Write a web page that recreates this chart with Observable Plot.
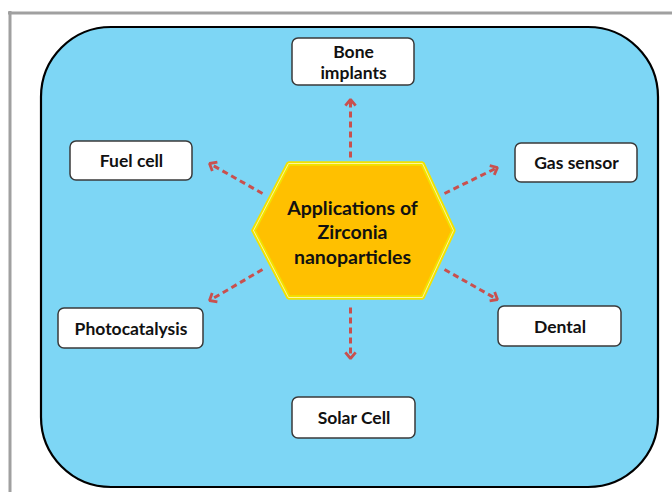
<!DOCTYPE html>
<html>
<head>
<meta charset="utf-8">
<script src="https://cdn.jsdelivr.net/npm/d3@7"></script>
<script src="https://cdn.jsdelivr.net/npm/@observablehq/plot@0.6"></script>
<style>
  html, body { margin: 0; padding: 0; background: #ffffff; }
  #chart svg { display: block; }
</style>
</head>
<body>
<div id="chart"></div>
<script>
// Application nodes (label, box extents in diagram units)
const labels = ["Bone\nimplants", "Fuel cell", "Gas sensor", "Photocatalysis", "Dental", "Solar Cell"];
const boxX1 = [292, 70, 515, 58, 498, 292];
const boxX2 = [414, 192, 637, 203, 621, 415];
const boxY1 = [38, 141, 143, 308, 306, 397];
const boxY2 = [85, 180, 182, 348, 346, 438];

// Arrows from the centre hexagon to each node
const arrowX1 = [350, 262, 444, 262, 444, 350];
const arrowY1 = [157, 193, 193, 269, 269, 307];
const arrowX2 = [350, 209, 497, 209, 497, 350];
const arrowY2 = [99, 163, 167, 300, 299, 358];

// Centre hexagon
const hexX = [253, 288, 422, 453, 422, 288, 253];
const hexY = [230, 163, 163, 230, 297, 297, 230];
const centreLabel = "Applications of\nZirconia\nnanoparticles";

const boxes = labels.map((l, i) => ({label: l, x1: boxX1[i], x2: boxX2[i], y1: boxY1[i], y2: boxY2[i]}));
const arrows = arrowX1.map((x, i) => ({x1: x, y1: arrowY1[i], x2: arrowX2[i], y2: arrowY2[i]}));
const hex = hexX.map((x, i) => ({x, y: hexY[i]}));
// chevron heads at each arrow tip
const wing = 8, ang = 40 * Math.PI / 180;
const heads = arrows.flatMap((a, i) => {
  const dx = a.x2 - a.x1, dy = a.y2 - a.y1, L = Math.hypot(dx, dy);
  const ux = -dx / L, uy = -dy / L;
  const rot = (t) => [ux * Math.cos(t) - uy * Math.sin(t), ux * Math.sin(t) + uy * Math.cos(t)];
  const [ax, ay] = rot(ang), [bx, by] = rot(-ang);
  return [
    {id: i, x: a.x2 + ax * wing, y: a.y2 + ay * wing},
    {id: i, x: a.x2, y: a.y2},
    {id: i, x: a.x2 + bx * wing, y: a.y2 + by * wing}
  ];
});

const font = "Lato, 'Open Sans', sans-serif";
const arrowColor = "#c9504e";

const chart = Plot.plot({
  width: 672,
  height: 492,
  margin: 0,
  x: {domain: [0, 672], range: [0, 672], axis: null},
  y: {domain: [0, 492], range: [0, 492], axis: null},
  style: {background: "#ffffff", fontFamily: font},
  marks: [
    // outer grey frame (top and left edges)
    Plot.ruleY([12.5], {x1: 8, x2: 672, stroke: "#a0a0a0", strokeWidth: 3}),
    Plot.ruleX([9.5], {y1: 11, y2: 492, stroke: "#a0a0a0", strokeWidth: 3}),
    // blue rounded panel
    Plot.rect([{x1: 41, x2: 658, y1: 27, y2: 487}], {
      x1: "x1", x2: "x2", y1: "y1", y2: "y2",
      rx: 70, fill: "#7dd6f5", stroke: "#000000", strokeWidth: 2.2
    }),
    // dashed arrow shafts
    Plot.link(arrows, {
      x1: "x1", y1: "y1", x2: "x2", y2: "y2",
      stroke: arrowColor, strokeWidth: 3, strokeDasharray: "6,4"
    }),
    // arrow heads
    Plot.line(heads, {
      x: "x", y: "y", z: "id",
      stroke: arrowColor, strokeWidth: 2.8, strokeLinejoin: "miter", strokeLinecap: "butt"
    }),
    // hexagon
    Plot.line(hex, {x: "x", y: "y", fill: "#ffc000", stroke: "#f2e200", strokeWidth: 4.5, strokeLinejoin: "miter"}),
    Plot.line(hex, {x: "x", y: "y", stroke: "#fff59a", strokeWidth: 1, strokeLinejoin: "miter"}),
    Plot.text([centreLabel], {
      x: 352, y: 231, text: d => d, fontSize: 19.5, fontWeight: "bold",
      fill: "#111111", lineHeight: 1.27, fontFamily: font
    }),
    // application boxes
    Plot.rect(boxes, {
      x1: "x1", x2: "x2", y1: "y1", y2: "y2",
      rx: 6, fill: "#ffffff", stroke: "#3a3a3a", strokeWidth: 1.5
    }),
    Plot.text(boxes, {
      x: d => (d.x1 + d.x2) / 2, y: d => (d.y1 + d.y2) / 2 - 0.5, text: "label",
      fontSize: 17.5, fontWeight: "bold", fill: "#111111", lineHeight: 1.2, fontFamily: font
    })
  ]
});
document.getElementById("chart").appendChild(chart);
</script>
</body>
</html>
